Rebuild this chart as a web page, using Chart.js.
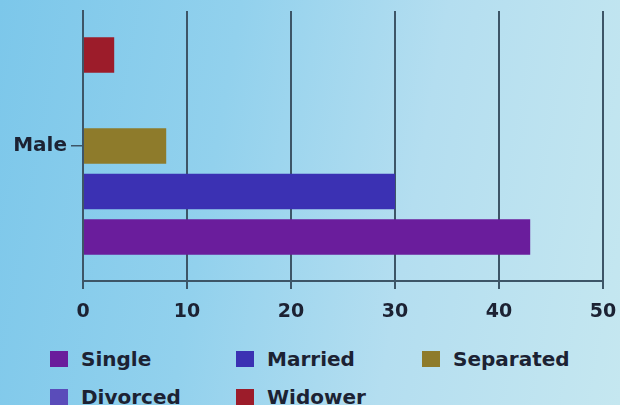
<!DOCTYPE html>
<html>
<head>
<meta charset="utf-8">
<script src="https://cdn.jsdelivr.net/npm/chart.js@4"></script>
<style>
  html, body { margin: 0; padding: 0; }
  body {
    width: 620px; height: 405px; overflow: hidden; position: relative;
    background: linear-gradient(100deg, #7cc7ea 0%, #92d1ed 35%, #b4def0 65%, #c5e7f0 100%);
    font-family: "DejaVu Sans", sans-serif;
  }
  #wrap { position: absolute; left: 0; top: 0; width: 620px; height: 320px; }
  #legend {
    position: absolute; left: 50px; top: 348px; width: 570px;
    display: grid; grid-template-columns: 186px 186px 186px; row-gap: 16px;
    font-weight: bold; font-size: 20px; color: #1c2233;
  }
  .item { display: flex; align-items: center; height: 22px; }
  .box { width: 18px; height: 16px; margin-right: 13px; }
</style>
</head>
<body>
<div id="wrap"><canvas id="chart"></canvas></div>
<div id="legend"></div>
<script>
// data
const categories = ['Male'];
const seriesNames = ['Single', 'Married', 'Separated', 'Divorced', 'Widower'];
const seriesValues = [43, 30, 8, 0, 3];
const seriesColors = ['#6a1d9c', '#3b31b3', '#8e7b2b', '#5a4cba', '#9c1c2a'];
const xTicks = [0, 10, 20, 30, 40, 50];

const textColor = '#1c2233';
const gridColor = '#3d5567';

// bars go top to bottom Widower..Single, so build datasets reversed
const datasets = [];
for (let i = seriesNames.length - 1; i >= 0; i--) {
    datasets.push({
        label: seriesNames[i],
        data: [seriesValues[i]],
        backgroundColor: seriesColors[i],
        borderWidth: 0,
        categoryPercentage: 0.843,
        barPercentage: 0.78
    });
}

const ctx = document.getElementById('chart').getContext('2d');
new Chart(ctx, {
    type: 'bar',
    data: { labels: categories, datasets: datasets },
    options: {
        indexAxis: 'y',
        responsive: true,
        maintainAspectRatio: false,
        animation: false,
        layout: { padding: { top: 11, right: 17, left: 0, bottom: 0 } },
        plugins: {
            legend: { display: false },
            tooltip: { enabled: false }
        },
        scales: {
            x: {
                min: xTicks[0],
                max: xTicks[xTicks.length - 1],
                afterBuildTicks: s => { s.ticks = xTicks.map(v => ({ value: v })); },
                afterFit: s => { s.height = 39; s.paddingLeft = 0; s.paddingRight = 0; },
                grid: { color: gridColor, lineWidth: 2, tickLength: 8 },
                border: { color: gridColor, width: 2 },
                ticks: {
                    color: textColor, padding: 12,
                    font: { family: 'DejaVu Sans', weight: 'bold', size: 19 }
                }
            },
            y: {
                afterFit: s => { s.width = 83; s.paddingTop = 0; s.paddingBottom = 0; },
                grid: { drawOnChartArea: false, offset: false, color: gridColor, lineWidth: 1.5, tickLength: 12 },
                border: { color: gridColor, width: 2 },
                ticks: {
                    color: textColor, padding: 4,
                    font: { family: 'DejaVu Sans', weight: 'bold', size: 20 }
                }
            }
        }
    }
});

// legend in the original order, laid out in columns
const legend = document.getElementById('legend');
seriesNames.forEach((name, i) => {
    const item = document.createElement('div');
    item.className = 'item';
    const box = document.createElement('span');
    box.className = 'box';
    box.style.background = seriesColors[i];
    const label = document.createElement('span');
    label.textContent = name;
    item.appendChild(box);
    item.appendChild(label);
    legend.appendChild(item);
});
</script>
</body>
</html>
